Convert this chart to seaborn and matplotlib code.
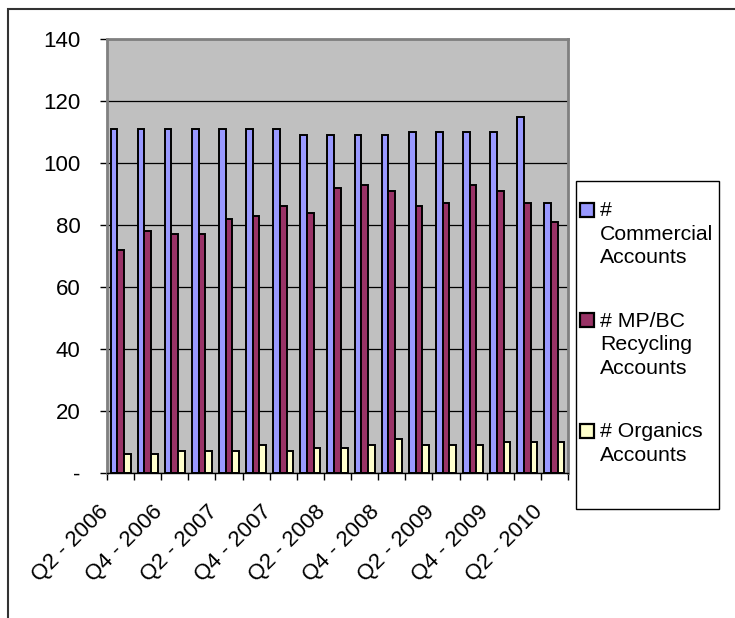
import numpy as np
import pandas as pd
import matplotlib.pyplot as plt
import matplotlib.transforms as mtrans
import seaborn as sns
from matplotlib.patches import Patch, Rectangle
from matplotlib.legend_handler import HandlerPatch

# data
quarters = [
    "Q2 - 2006", "Q3 - 2006", "Q4 - 2006", "Q1 - 2007", "Q2 - 2007",
    "Q3 - 2007", "Q4 - 2007", "Q1 - 2008", "Q2 - 2008", "Q3 - 2008",
    "Q4 - 2008", "Q1 - 2009", "Q2 - 2009", "Q3 - 2009", "Q4 - 2009",
    "Q1 - 2010", "Q2 - 2010",
]
commercial = [111, 111, 111, 111, 111, 111, 111, 109, 109, 109, 109, 110, 110, 110, 110, 115, 87]
mpbc_recycling = [72, 78, 77, 77, 82, 83, 86, 84, 92, 93, 91, 86, 87, 93, 91, 87, 81]
organics = [6, 6, 7, 7, 7, 9, 7, 8, 8, 9, 11, 9, 9, 9, 10, 10, 10]

series_names = ["# Commercial Accounts", "# MP/BC Recycling Accounts", "# Organics Accounts"]
legend_labels = ["#\nCommercial\nAccounts", "# MP/BC\nRecycling\nAccounts", "# Organics\nAccounts"]
series_colors = ["#9999FF", "#993366", "#FFFFCC"]
y_ticks = [0, 20, 40, 60, 80, 100, 120, 140]
y_ticklabels = ["-", "20", "40", "60", "80", "100", "120", "140"]

LEGEND_FS = 15.3
LINE_PT = 17.6  # distance between legend text lines, points


class TopHandle(HandlerPatch):
    """Legend square aligned with the first line of a multi-line label."""

    def __init__(self, shift, **kw):
        super().__init__(**kw)
        self.shift = shift

    def create_artists(self, legend, orig_handle, xdescent, ydescent,
                       width, height, fontsize, trans):
        p = Rectangle((-xdescent, -ydescent + self.shift), width, height)
        self.update_prop(p, orig_handle, legend)
        p.set_transform(trans)
        return [p]


df = pd.DataFrame({
    "quarter": quarters * 3,
    "series": np.repeat(series_names, len(quarters)),
    "count": commercial + mpbc_recycling + organics,
})

plt.rcParams["font.family"] = ["Liberation Sans", "DejaVu Sans"]

W, H = 735, 618
fig = plt.figure(figsize=(W / 100, H / 100), dpi=100)
ax = fig.add_axes([107 / W, 1 - 473 / H, (568 - 107) / W, (473 - 39) / H])

sns.barplot(
    data=df, x="quarter", y="count", hue="series",
    order=quarters, hue_order=series_names,
    palette=dict(zip(series_names, series_colors)), saturation=1,
    width=0.74, edgecolor="black", linewidth=1.4,
    errorbar=None, legend=False, ax=ax,
)

ax.set_facecolor("#C0C0C0")
ax.set_axisbelow(True)
ax.yaxis.grid(True, color="black", linewidth=0.9)
ax.set_ylim(0, 140)
ax.set_xlim(-0.5, len(quarters) - 0.5)
ax.set_yticks(y_ticks)
ax.set_yticklabels(y_ticklabels)
ax.tick_params(axis="y", length=5, width=1, pad=14, labelsize=16)

ax.set_xticks(range(0, len(quarters), 2))
ax.set_xticklabels(quarters[::2], rotation=45, ha="right", va="top",
                   rotation_mode="anchor")
ax.set_xticks(np.arange(-0.5, len(quarters), 1), minor=True)
ax.tick_params(axis="x", which="major", length=0, pad=20, labelsize=16)
ax.tick_params(axis="x", which="minor", length=5, width=1)
ax.set_xlabel("")
ax.set_ylabel("")

for side in ["top", "right", "left"]:
    ax.spines[side].set_color("#808080")
    ax.spines[side].set_linewidth(2)
ax.spines["bottom"].set_color("black")
ax.spines["bottom"].set_linewidth(1)

# place rotated labels like Excel: box ends a bit left of the category centre,
# about 28 px below the axis
fig.canvas.draw()
first = ax.get_xticklabels()[0]
bb = first.get_window_extent()
tick_x, axis_y = ax.transData.transform((0, 0))
dx = (tick_x - 7.6) - bb.x1
dy = (axis_y - 28) - bb.y1
nudge = mtrans.Affine2D().translate(dx, dy)
for lbl in ax.get_xticklabels():
    lbl.set_transform(lbl.get_transform() + nudge)

# outer chart frame (only top/left visible in the reference)
fig.patches.append(Rectangle((8 / W, -0.1), 2, 1 - 9 / H + 0.1, transform=fig.transFigure,
                             fill=False, edgecolor="#333333", linewidth=1.5))

# legend frame
fig.patches.append(Rectangle((576 / W, 1 - 509 / H), (719 - 576) / W, (509 - 181) / H,
                             transform=fig.transFigure, fill=False, edgecolor="black", linewidth=1))
handles = [Patch(facecolor=c, edgecolor="black", linewidth=1.6) for c in series_colors]
handler_map = {
    h: TopHandle((lab.count("\n")) / 2 * LINE_PT)
    for h, lab in zip(handles, legend_labels)
}
leg = fig.legend(handles, legend_labels, loc="upper left", bbox_to_anchor=(580 / W, 1 - 201 / H),
                 frameon=False, fontsize=LEGEND_FS, handlelength=0.64, handleheight=0.64,
                 handletextpad=0.3, labelspacing=2.08, borderpad=0, borderaxespad=0,
                 handler_map=handler_map)
for t in leg.get_texts():
    t.set_linespacing(1.31)

fig.savefig("out.png", dpi=100, facecolor="white")
